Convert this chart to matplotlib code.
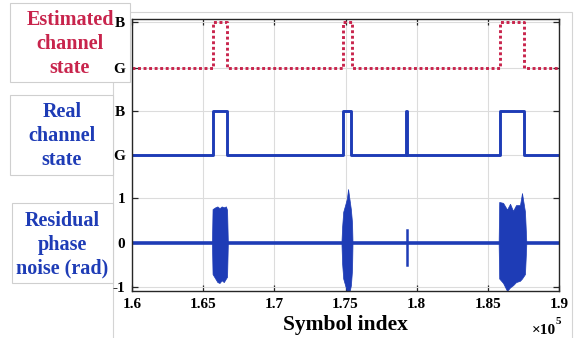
import numpy as np
import matplotlib.pyplot as plt
from matplotlib.patches import Rectangle

plt.rcParams['font.family'] = ['Liberation Serif', 'DejaVu Serif']
plt.rcParams['font.weight'] = 'bold'
plt.rcParams['axes.labelweight'] = 'bold'

red = '#c8244c'
blue = '#1e3cb6'

# symbol index in units of 1e5
x_lim = (1.6, 1.9)
x_ticks = [1.6, 1.65, 1.7, 1.75, 1.8, 1.85, 1.9]
x_ticklabels = ['1.6', '1.65', '1.7', '1.75', '1.8', '1.85', '1.9']

# y levels of the stacked traces
est_G, est_B = 3.94, 4.96
real_G, real_B = 1.97, 2.96
y_ticks = [-1, 0, 1, real_G, real_B, est_G, est_B]
y_ticklabels = ['-1', '0', '1', 'G', 'B', 'G', 'B']

# bad-channel intervals (start, end)
est_bad = [(1.6569, 1.6667), (1.7482, 1.7545), (1.8585, 1.8754)]
real_bad = [(1.6569, 1.6667), (1.7482, 1.7539), (1.7925, 1.7929), (1.8585, 1.8754)]

# residual phase noise bursts: x, upper envelope, lower envelope
burst1_x = [1.6562, 1.6566, 1.6585, 1.6600, 1.6615, 1.6630, 1.6645, 1.6660, 1.6668, 1.6673]
burst1_up = [0.05, 0.76, 0.80, 0.82, 0.78, 0.82, 0.80, 0.82, 0.74, 0.05]
burst1_lo = [-0.05, -0.70, -0.80, -0.88, -0.90, -0.84, -0.88, -0.80, -0.76, -0.05]

burst2_x = [1.7472, 1.7476, 1.7484, 1.7500, 1.7510, 1.7518, 1.7528, 1.7538, 1.7546, 1.7549]
burst2_up = [0.05, 0.35, 0.70, 0.88, 1.00, 1.21, 0.98, 0.75, 0.45, 0.05]
burst2_lo = [-0.05, -0.45, -0.80, -0.98, -1.10, -1.10, -1.10, -0.95, -0.60, -0.05]

spike_x = 1.7930
spike_range = (-0.49, 0.29)

burst3_x = [1.8576, 1.8580, 1.8607, 1.8635, 1.8656, 1.8677, 1.8698, 1.8726, 1.8740, 1.8761, 1.8770]
burst3_up = [0.05, 0.92, 0.90, 0.75, 0.88, 0.72, 0.85, 0.85, 1.12, 0.70, 0.05]
burst3_lo = [-0.05, -0.80, -0.90, -1.08, -1.00, -0.95, -0.88, -0.85, -0.80, -0.70, -0.05]


def step_trace(bad, low, high):
    xs, ys = [x_lim[0]], [low]
    for a, b in bad:
        xs += [a, a, b, b]
        ys += [low, high, high, low]
    xs.append(x_lim[1])
    ys.append(low)
    return xs, ys


fig = plt.figure(figsize=(5.78, 3.38), dpi=100)

# faint frame of the original figure
fig.add_artist(Rectangle((113/578, -0.01), (572-113)/578, (338-12)/338 + 0.01,
                         transform=fig.transFigure, fill=False, ec='#d4d4d4', lw=0.8,
                         zorder=-2))

# side labels in boxes (behind the axes so tick labels stay visible)
boxes = [((10, 3, 130, 82), 'Estimated\nchannel\nstate', red, (70, 44)),
         ((10, 95, 113, 175), 'Real\nchannel\nstate', blue, (62, 136)),
         ((12, 203, 113, 283), 'Residual\nphase\nnoise (rad)', blue, (62, 245))]
for (x0, y0, x1, y1), txt, col, (tx, ty) in boxes:
    fig.add_artist(Rectangle((x0/578, 1 - y1/338), (x1-x0)/578, (y1-y0)/338,
                             transform=fig.transFigure, fc='white', ec='#cfcfcf', lw=0.8,
                             zorder=-1))
    fig.text(tx/578, 1 - ty/338, txt, ha='center', va='center', color=col,
             fontsize=14.5, linespacing=1.25)

ax = fig.add_axes([132/578, 47/338, 427/578, 272/338])
ax.patch.set_alpha(0)
ax.set_xlim(*x_lim)
ax.set_ylim(-1.08, 5.03)

ex, ey = step_trace(est_bad, est_G, est_B)
ax.plot(ex, ey, color=red, lw=2.1, dashes=(1, 0.9), dash_capstyle='butt')
rx, ry = step_trace(real_bad, real_G, real_B)
ax.plot(rx, ry, color=blue, lw=2.1)

ax.plot(x_lim, [0, 0], color=blue, lw=2.6)
for bx, bu, bl in [(burst1_x, burst1_up, burst1_lo),
                   (burst2_x, burst2_up, burst2_lo),
                   (burst3_x, burst3_up, burst3_lo)]:
    ax.fill_between(bx, bl, bu, color=blue, lw=0.5)
ax.plot([spike_x, spike_x], spike_range, color=blue, lw=1.8)

ax.set_xticks(x_ticks)
ax.set_xticklabels(x_ticklabels)
ax.set_yticks(y_ticks)
ax.set_yticklabels(y_ticklabels)
ax.tick_params(direction='in', top=True, right=True, length=4, width=0.9,
               labelsize=11, color='#262626', pad=5)
ax.grid(True, color='#dcdcdc', lw=0.8)
ax.set_axisbelow(True)
for s in ax.spines.values():
    s.set_color('#262626')
    s.set_linewidth(1.0)

ax.set_xlabel('Symbol index', fontsize=15.5, labelpad=3)
fig.text(556/578, 1/338, '×10', ha='right', va='bottom', fontsize=11)
fig.text(556/578, 12/338, '5', ha='left', va='bottom', fontsize=8)

fig.savefig('out.png', dpi=100)
